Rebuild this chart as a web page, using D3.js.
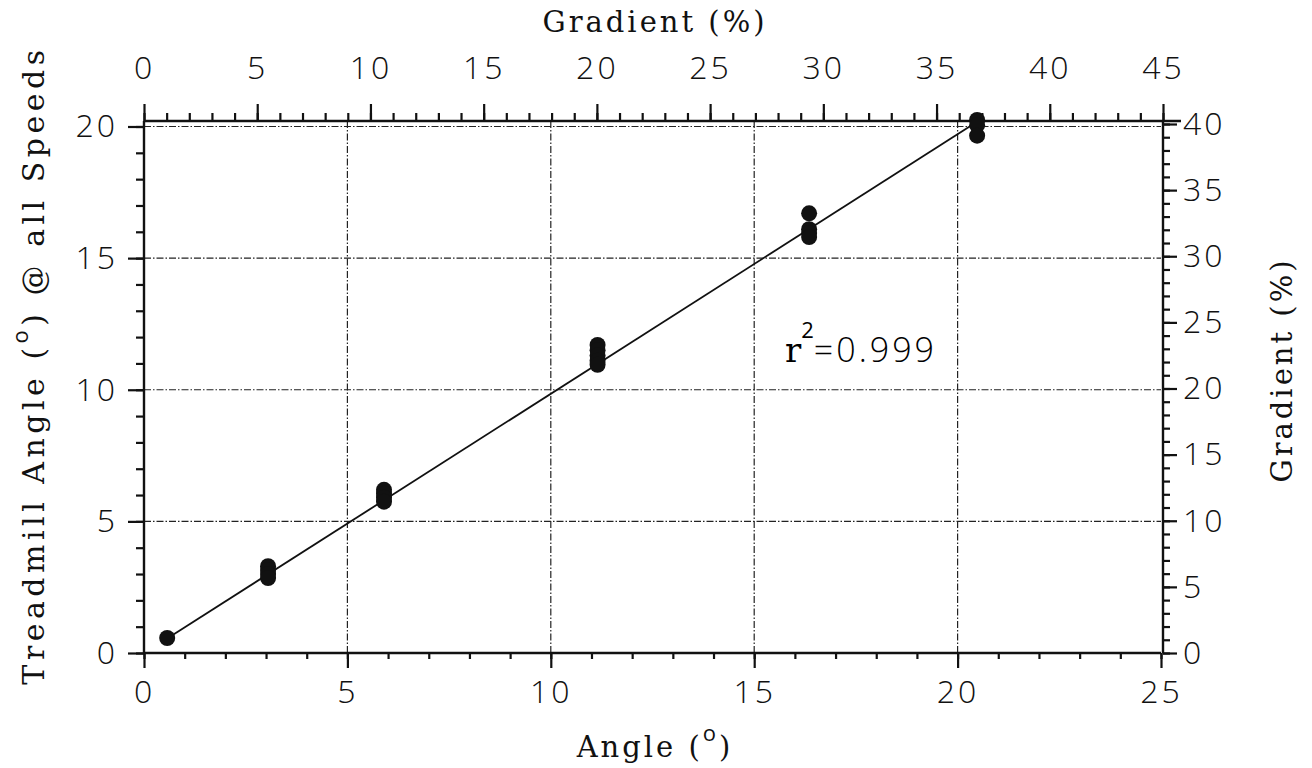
<!DOCTYPE html>
<html>
<head>
<meta charset="utf-8">
<script src="https://cdn.jsdelivr.net/npm/d3@7"></script>
<style>
  body { margin: 0; background: #fff; }
  .tick text { font-family: "Open Sans", "Liberation Sans", sans-serif; font-weight: 300; font-size: 32px; letter-spacing: 3px; fill: #111; }
  .tick line { stroke: #111; stroke-width: 2.2px; }
  .title { font-family: "DejaVu Serif", serif; font-size: 29px; letter-spacing: 3px; fill: #111; }
</style>
</head>
<body>
<svg id="mainSvg" width="1312" height="768"></svg>
<script>
// measured points: angle (deg) vs treadmill angle (deg)
var angleX = [0.57,
  3.05, 3.05, 3.05, 3.05,
  5.9, 5.9, 5.9, 5.9,
  11.15, 11.15, 11.15, 11.15, 11.15,
  16.35, 16.35, 16.35, 16.35,
  20.48, 20.48, 20.48];
var treadmillY = [0.57,
  3.3, 3.15, 3.0, 2.85,
  6.2, 6.05, 5.9, 5.75,
  11.7, 11.5, 11.3, 11.1, 10.95,
  16.7, 16.1, 15.95, 15.8,
  20.25, 20.05, 19.65];

// regression line end points
var fitX = [0.57, 20.45];
var fitY = [0.55, 20.15];

var angleTicks = [0, 5, 10, 15, 20, 25];
var treadTicks = [0, 5, 10, 15, 20];
var gradTopTicks = [0, 5, 10, 15, 20, 25, 30, 35, 40, 45];
var gradRightTicks = [0, 5, 10, 15, 20, 25, 30, 35, 40];
var r2Label = "0.999";

function drawChart(){

var svg = d3.select("#mainSvg");

var left = 144, right = 1161, topY = 121, bottom = 653, rightAxis = 1163;

var x = d3.scaleLinear().domain([0, 25]).range([left, right]);
var y = d3.scaleLinear().domain([0, 20]).range([bottom, 126.5]);
var xTop = d3.scaleLinear().domain([0, 45]).range([left, rightAxis]);
var yRight = d3.scaleLinear().domain([0, 40]).range([bottom, 124]);

// dash-dot grid
var grid = svg.append("g").attr("class", "grid")
  .attr("stroke", "#222").attr("stroke-width", 1.2)
  .attr("stroke-dasharray", "7,2,1.5,2");
grid.selectAll(".vg").data(angleTicks.filter(function(d){ return d > 0 && d < 25; }))
  .enter().append("line")
  .attr("x1", function(d){ return x(d); }).attr("x2", function(d){ return x(d); })
  .attr("y1", topY).attr("y2", bottom);
grid.selectAll(".hg").data(treadTicks.filter(function(d){ return d > 0; }))
  .enter().append("line")
  .attr("y1", function(d){ return y(d); }).attr("y2", function(d){ return y(d); })
  .attr("x1", left).attr("x2", right);

function minor(n){ return d3.range(0, n + 1); }

// bottom axis
svg.append("g").attr("transform", "translate(0," + bottom + ")")
  .call(d3.axisBottom(x).tickValues(minor(25)).tickSize(6).tickFormat(""));
svg.append("g").attr("transform", "translate(0," + bottom + ")")
  .call(d3.axisBottom(x).tickValues(angleTicks).tickSize(15).tickPadding(12));

// left axis
svg.append("g").attr("transform", "translate(" + left + ",0)")
  .call(d3.axisLeft(y).tickValues(minor(20)).tickSize(8).tickFormat(""));
svg.append("g").attr("transform", "translate(" + left + ",0)")
  .call(d3.axisLeft(y).tickValues(treadTicks).tickSize(16).tickPadding(10));

// top axis
svg.append("g").attr("transform", "translate(0," + topY + ")")
  .call(d3.axisTop(xTop).tickValues(minor(45)).tickSize(8).tickFormat(""));
svg.append("g").attr("transform", "translate(0," + topY + ")")
  .call(d3.axisTop(xTop).tickValues(gradTopTicks).tickSize(17).tickPadding(25));

// right axis
svg.append("g").attr("transform", "translate(" + rightAxis + ",0)")
  .call(d3.axisRight(yRight).tickValues(minor(40)).tickSize(7).tickFormat(""));
svg.append("g").attr("transform", "translate(" + rightAxis + ",0)")
  .call(d3.axisRight(yRight).tickValues(gradRightTicks).tickSize(14).tickPadding(6));

svg.selectAll(".domain").remove();

// axis lines
var frame = svg.append("g").attr("stroke", "#111").attr("stroke-width", 2.4);
frame.append("line").attr("x1", left).attr("x2", right).attr("y1", bottom).attr("y2", bottom);
frame.append("line").attr("x1", left).attr("x2", left).attr("y1", topY).attr("y2", bottom);
frame.append("line").attr("x1", left).attr("x2", 1181).attr("y1", topY).attr("y2", topY);
frame.append("line").attr("x1", rightAxis).attr("x2", rightAxis).attr("y1", topY).attr("y2", bottom);

// regression line
svg.append("line")
  .attr("x1", x(fitX[0])).attr("y1", y(fitY[0]))
  .attr("x2", x(fitX[1])).attr("y2", y(fitY[1]))
  .attr("stroke", "#111").attr("stroke-width", 1.8);

// points
svg.selectAll(".pt").data(angleX).enter().append("circle")
  .attr("class", "pt")
  .attr("cx", function(d){ return x(d); })
  .attr("cy", function(d, i){ return y(treadmillY[i]); })
  .attr("r", 8)
  .attr("fill", "#111");

// titles
svg.append("text").attr("class", "title")
  .attr("x", 655).attr("y", 32).attr("text-anchor", "middle")
  .text("Gradient (%)");

var bt = svg.append("text").attr("class", "title")
  .attr("x", 655).attr("y", 757).attr("text-anchor", "middle");
bt.append("tspan").text("Angle (");
bt.append("tspan").attr("dy", -16).style("font-family", "Open Sans, sans-serif").style("font-size", "22px").text("o");
bt.append("tspan").attr("dy", 16).text(")");

var lt = svg.append("text").attr("class", "title")
  .style("font-size", "30px").style("letter-spacing", "4.5px")
  .attr("transform", "translate(44,365) rotate(-90)").attr("text-anchor", "middle");
lt.append("tspan").text("Treadmill Angle (");
lt.append("tspan").attr("dy", -16).style("font-family", "Open Sans, sans-serif").style("font-size", "22px").text("o");
lt.append("tspan").attr("dy", 16).text(") @ all Speeds");

svg.append("text").attr("class", "title")
  .attr("transform", "translate(1292,370) rotate(-90)").attr("text-anchor", "middle")
  .text("Gradient (%)");

// r squared annotation
var r2 = svg.append("text").attr("x", 785).attr("y", 362);
r2.append("tspan").style("font-family", "DejaVu Serif, serif").style("font-size", "34px").text("r");
r2.append("tspan").attr("dy", -24).style("font-family", "Open Sans, sans-serif").style("font-size", "22px").text("2");
r2.append("tspan").attr("dy", 24).style("font-family", "Open Sans, sans-serif").style("font-weight", 300)
  .style("font-size", "34px").style("letter-spacing", "3px").text("=" + r2Label);
}

drawChart();
</script>
</body>
</html>
